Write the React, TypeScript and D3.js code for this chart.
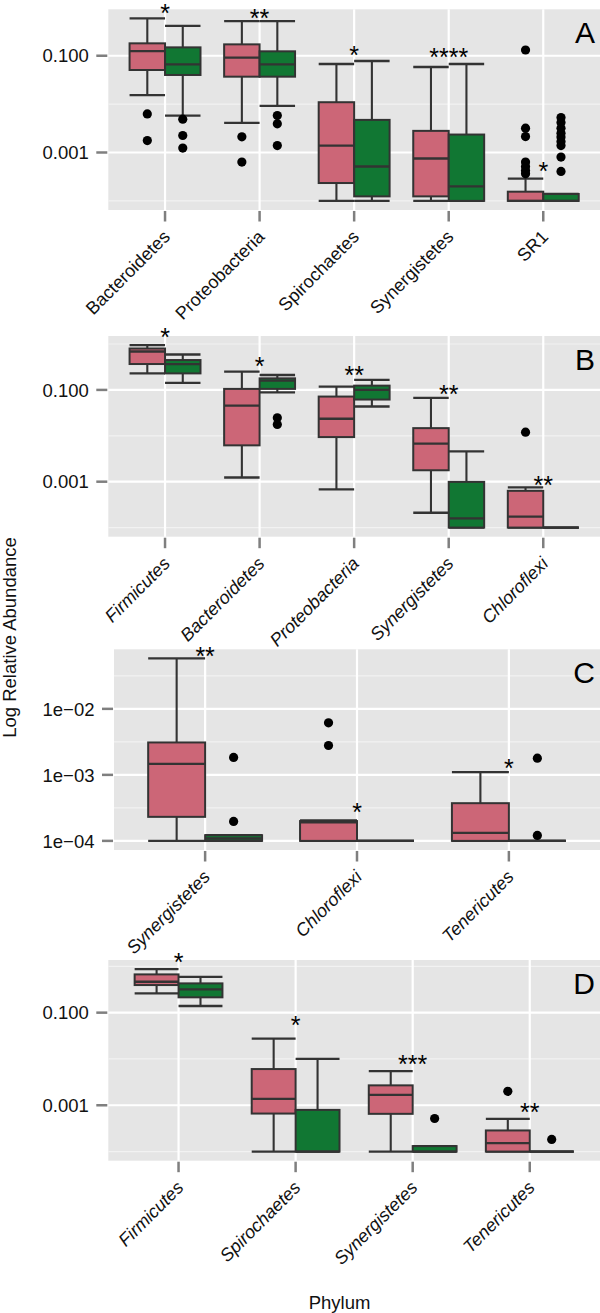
import React from "react";
import * as d3 from "d3";

// ---------- colours ----------
const PINK = "#CC6677";
const GREEN = "#117733";
const INK = "#333333";

// Box stats are log10(relative abundance): [lowerWhisker, q1, median, q3, upperWhisker]

// ---------- Panel A ----------
const catsA = ["Bacteroidetes", "Proteobacteria", "Spirochaetes", "Synergistetes", "SR1"];
const pinkA = [
  [-1.816, -1.295, -0.903, -0.744, -0.229],
  [-2.388, -1.433, -1.041, -0.765, -0.285],
  [-4, -3.631, -2.856, -1.961, -1.171],
  [-4, -3.907, -3.124, -2.553, -1.233],
  [-4, -4, -4, -3.81, -3.542],
];
const greenA = [
  [-2.237, -1.398, -1.177, -0.827, -0.381],
  [-2.037, -1.433, -1.177, -0.909, -0.285],
  [-4, -3.907, -3.289, -2.326, -1.109],
  [-4, -4, -3.701, -2.629, -1.171],
  [-4, -4, -4, -3.858, -3.858],
];
const pinkOutA = [[-2.202, -2.753], [-2.676, -3.198], [], [], [-0.882, -2.497, -2.67, -3.198, -3.289, -3.371, -3.44]];
const greenOutA = [[-2.311, -2.649, -2.909], [-2.237, -2.408, -2.856], [], [], [-2.278, -2.381, -2.497, -2.6, -2.682, -2.773, -2.856, -3.095, -3.392]];
const starsA = ["*", "**", "*", "****", "*"];
const starYA = [0.0, -0.12, -0.876, -0.918, -3.274];
const majorsA = [-3, -1];
const tickLabelsA = ["0.001", "0.100"];

// ---------- Panel B ----------
const catsB = ["Firmicutes", "Bacteroidetes", "Proteobacteria", "Synergistetes", "Chloroflexi"];
const pinkB = [
  [-0.64, -0.436, -0.163, -0.098, -0.024],
  [-2.909, -2.208, -1.341, -0.978, -0.603],
  [-3.169, -2.028, -1.629, -1.145, -0.928],
  [-3.677, -2.751, -2.171, -1.833, -1.174],
  [-4, -4, -3.763, -3.199, -3.126],
];
const greenB = [
  [-0.848, -0.64, -0.436, -0.349, -0.228],
  [-1.052, -0.978, -0.798, -0.748, -0.675],
  [-1.362, -1.21, -1.0, -0.907, -0.783],
  [-4, -4, -3.798, -3.004, -2.338],
  [-4, -4, -4, -4, -4],
];
const pinkOutB = [[], [], [], [], [-1.92]];
const greenOutB = [[], [-1.607, -1.752], [], [], []];
const starsB = ["*", "*", "**", "**", "**"];
const starYB = [0.26, -0.354, -0.56, -0.983, -2.967];
const majorsB = [-3, -1];
const tickLabelsB = ["0.001", "0.100"];

// ---------- Panel C ----------
const catsC = ["Synergistetes", "Chloroflexi", "Tenericutes"];
const pinkC = [
  [-4, -3.636, -2.833, -2.509, -1.236],
  [-4, -4, -3.72, -3.70, -3.69],
  [-4, -4, -3.879, -3.429, -2.959],
];
const greenC = [
  [-4, -4, -3.964, -3.914, -3.914],
  [-4, -4, -4, -4, -4],
  [-4, -4, -4, -4, -4],
];
const pinkOutC = [[], [-2.212, -2.555], []];
const greenOutC = [[-2.736, -3.706], [], [-2.747, -3.918]];
const starsC = ["**", "*", "*"];
const starYC = [-1.123, -3.477, -2.823];
const majorsC = [-4, -3, -2];
const tickLabelsC = ["1e\u221204", "1e\u221203", "1e\u221202"];

// ---------- Panel D ----------
const catsD = ["Firmicutes", "Spirochaetes", "Synergistetes", "Tenericutes"];
const pinkD = [
  [-0.583, -0.404, -0.333, -0.174, -0.06],
  [-4, -3.179, -2.863, -2.218, -1.559],
  [-4, -3.185, -2.777, -2.57, -2.261],
  [-4, -4, -3.817, -3.544, -3.293],
];
const greenD = [
  [-0.856, -0.669, -0.497, -0.368, -0.226],
  [-4, -4, -4, -3.1, -1.996],
  [-4, -4, -4, -3.882, -3.882],
  [-4, -4, -4, -4, -4],
];
const pinkOutD = [[], [], [], [-2.699]];
const greenOutD = [[], [], [-3.286], [-3.738]];
const starsD = ["*", "*", "***", "**"];
const starYD = [0.202, -1.157, -1.985, -3.039];
const majorsD = [-3, -1];
const tickLabelsD = ["0.001", "0.100"];

// ---------- layout ----------
const W = 600;
const H = 1313;
const FONT = "'Liberation Sans', Arial, Helvetica, sans-serif";

const panels = [
  { id: "A", cats: catsA, italic: false, pink: pinkA, green: greenA, pinkOut: pinkOutA, greenOut: greenOutA, stars: starsA, starY: starYA, majors: majorsA, labels: tickLabelsA, top: 9.3, bottom: 210, left: 108.3 },
  { id: "B", cats: catsB, italic: true, pink: pinkB, green: greenB, pinkOut: pinkOutB, greenOut: greenOutB, stars: starsB, starY: starYB, majors: majorsB, labels: tickLabelsB, top: 336, bottom: 536.7, left: 108.3 },
  { id: "C", cats: catsC, italic: true, pink: pinkC, green: greenC, pinkOut: pinkOutC, greenOut: greenOutC, stars: starsC, starY: starYC, majors: majorsC, labels: tickLabelsC, top: 649.3, bottom: 850, left: 114 },
  { id: "D", cats: catsD, italic: true, pink: pinkD, green: greenD, pinkOut: pinkOutD, greenOut: greenOutD, stars: starsD, starY: starYD, majors: majorsD, labels: tickLabelsD, top: 960, bottom: 1160.7, left: 108.3 },
];

function Box({ s, cx, bw, fill }: { s: number[]; cx: number; bw: number; fill: string }) {
  // s already in pixel coordinates
  const [wl, q1, med, q3, wt] = s;
  const x0 = cx - bw / 2;
  const x1 = cx + bw / 2;
  return (
    <g>
      <line x1={cx} x2={cx} y1={q1} y2={wl} stroke={INK} strokeWidth={2.1} />
      <line x1={cx} x2={cx} y1={q3} y2={wt} stroke={INK} strokeWidth={2.1} />
      <line x1={x0} x2={x1} y1={wl} y2={wl} stroke={INK} strokeWidth={2.3} />
      <line x1={x0} x2={x1} y1={wt} y2={wt} stroke={INK} strokeWidth={2.3} />
      <rect x={x0} y={q3} width={bw} height={Math.max(0, q1 - q3)} fill={fill} stroke={INK} strokeWidth={2} />
      <line x1={x0} x2={x1} y1={med} y2={med} stroke={INK} strokeWidth={2.3} />
    </g>
  );
}

function Panel({ p }: { p: any }) {
  const all: number[] = [
    ...p.pink.flat(),
    ...p.green.flat(),
    ...p.pinkOut.flat(),
    ...p.greenOut.flat(),
  ];
  const [mn, mx] = d3.extent(all) as [number, number];
  const pad = (mx - mn) * 0.05;
  const y = d3.scaleLinear().domain([mn - pad, mx + pad]).range([p.bottom, p.top]);
  const x = d3.scalePoint<string>().domain(p.cats).range([p.left, W]).padding(0.6);
  const step = x.step();
  const bw = step * 0.375;

  const d = p.majors[1] - p.majors[0];
  const minors: number[] = [];
  for (let v = p.majors[0] - d / 2; v <= mx + pad + 1e-9; v += d) {
    if (v >= mn - pad && v <= mx + pad) minors.push(v);
  }

  const starFs = 25;

  return (
    <g>
      <rect x={p.left} y={p.top} width={W - p.left} height={p.bottom - p.top} fill="#E5E5E5" />
      {minors.map((v, i) => (
        <line key={"mi" + i} x1={p.left} x2={W} y1={y(v)} y2={y(v)} stroke="#F2F2F2" strokeWidth={1.2} />
      ))}
      {p.majors.map((v: number, i: number) => (
        <line key={"ma" + i} x1={p.left} x2={W} y1={y(v)} y2={y(v)} stroke="#FFFFFF" strokeWidth={2.2} />
      ))}
      {p.cats.map((c: string) => (
        <line key={"vg" + c} x1={x(c)} x2={x(c)} y1={p.top} y2={p.bottom} stroke="#FFFFFF" strokeWidth={2.2} />
      ))}
      {p.cats.map((c: string, i: number) => {
        const cx = x(c) as number;
        const pc = cx - bw / 2;
        const gc = cx + bw / 2;
        return (
          <g key={"bx" + c}>
            <Box s={p.pink[i].map((v: number) => y(v))} cx={pc} bw={bw} fill={PINK} />
            <Box s={p.green[i].map((v: number) => y(v))} cx={gc} bw={bw} fill={GREEN} />
            {p.pinkOut[i].map((v: number, k: number) => (
              <circle key={"po" + k} cx={pc} cy={y(v)} r={4.6} fill="#000" />
            ))}
            {p.greenOut[i].map((v: number, k: number) => (
              <circle key={"go" + k} cx={gc} cy={y(v)} r={4.6} fill="#000" />
            ))}
          </g>
        );
      })}
      {p.cats.map((c: string, i: number) => (
        <text
          key={"st" + c}
          x={x(c)}
          y={y(p.starY[i]) + starFs * 0.57}
          textAnchor="middle"
          fontSize={starFs}
          fontFamily={FONT}
          fill="#000"
        >
          {p.stars[i]}
        </text>
      ))}
      <text x={595} y={p.top + 33.5} textAnchor="end" fontSize={30} fontFamily={FONT} fill="#000">
        {p.id}
      </text>
      {/* y axis */}
      {p.majors.map((v: number, i: number) => (
        <g key={"yt" + i}>
          <line x1={p.left - 12} x2={p.left - 1} y1={y(v)} y2={y(v)} stroke="#7F7F7F" strokeWidth={2.5} />
          <text
            x={p.left - 19.5}
            y={y(v)}
            dy="0.36em"
            textAnchor="end"
            fontSize={18.5}
            fontFamily={FONT}
            fill="#111"
          >
            {p.labels[i]}
          </text>
        </g>
      ))}
      {/* x axis */}
      {p.cats.map((c: string) => {
        const cx = x(c) as number;
        return (
          <g key={"xt" + c}>
            <line x1={cx} x2={cx} y1={p.bottom + 1} y2={p.bottom + 11.5} stroke="#7F7F7F" strokeWidth={2.5} />
            <text
              transform={`translate(${cx + 6},${p.bottom + 28}) rotate(-45)`}
              textAnchor="end"
              fontSize={18}
              fontFamily={FONT}
              fontStyle={p.italic ? "italic" : "normal"}
              fill="#111"
            >
              {c}
            </text>
          </g>
        );
      })}
    </g>
  );
}

export default function App() {
  return (
    <svg
      width={W}
      height={H}
      viewBox={`0 0 ${W} ${H}`}
      style={{ position: "absolute", left: 0, top: 0, background: "#fff" }}
    >
      <rect x={0} y={0} width={W} height={H} fill="#fff" />
      {panels.map((p) => (
        <Panel key={p.id} p={p} />
      ))}
      <text
        transform="translate(16,637.5) rotate(-90)"
        textAnchor="middle"
        fontSize={18.5}
        fontFamily={FONT}
        fill="#111"
      >
        Log Relative Abundance
      </text>
      <text x={339.5} y={1309} textAnchor="middle" fontSize={18.5} fontFamily={FONT} fill="#111">
        Phylum
      </text>
    </svg>
  );
}
